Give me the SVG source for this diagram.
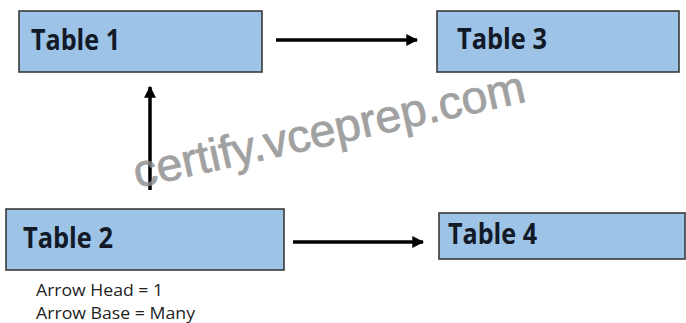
<svg xmlns="http://www.w3.org/2000/svg" width="686" height="323" viewBox="0 0 686 323">
<style>
.box{fill:#9dc3e6;stroke:#3a3a3a;stroke-width:1.6}
.title{font-family:"Open Sans","Liberation Sans",sans-serif;font-weight:bold;font-size:29px;fill:#111a26}
.note{font-family:"Open Sans","Liberation Sans",sans-serif;font-size:16px;fill:#222}
.conn{stroke:#000;stroke-width:3.5;fill:none;marker-end:url(#ah)}
.wm{font-family:"Liberation Sans",Arial,sans-serif;font-size:46px;fill:#8a8a8a;stroke:#8a8a8a;stroke-width:0.8;opacity:0.8}
</style>
<defs>
<marker id="ah" viewBox="0 0 10 10" refX="9" refY="5" markerWidth="3.4" markerHeight="3.4" orient="auto" markerUnits="strokeWidth">
<path d="M0,0 L10,5 L0,10 Z" fill="#000"/>
</marker>
</defs>
<rect width="686" height="323" fill="#fff"/>
<g id="table1">
<rect class="box" x="19" y="11" width="243" height="61"/>
<text class="title" x="31" y="50" textLength="89" lengthAdjust="spacingAndGlyphs">Table 1</text>
</g>
<g id="table3">
<rect class="box" x="437" y="11" width="242" height="61"/>
<text class="title" x="457" y="49" textLength="90" lengthAdjust="spacingAndGlyphs">Table 3</text>
</g>
<g id="table2">
<rect class="box" x="6" y="209" width="278" height="61"/>
<text class="title" x="23" y="248" textLength="90" lengthAdjust="spacingAndGlyphs">Table 2</text>
</g>
<g id="table4">
<rect class="box" x="439" y="213" width="246" height="46"/>
<text class="title" x="448" y="244" textLength="89" lengthAdjust="spacingAndGlyphs">Table 4</text>
</g>
<g id="connectors">
<line class="conn" x1="276" y1="40" x2="417" y2="40"/>
<line class="conn" x1="150" y1="190" x2="150" y2="87"/>
<line class="conn" x1="293" y1="242" x2="423" y2="242"/>
</g>
<g id="legend">
<text class="note" x="36" y="296" textLength="127" lengthAdjust="spacingAndGlyphs">Arrow Head = 1</text>
<text class="note" x="36" y="319" textLength="159" lengthAdjust="spacingAndGlyphs">Arrow Base = Many</text>
</g>
<text class="wm" x="137" y="188" transform="rotate(-12.5 137 188)" textLength="400" lengthAdjust="spacingAndGlyphs">certify.vceprep.com</text>
</svg>
